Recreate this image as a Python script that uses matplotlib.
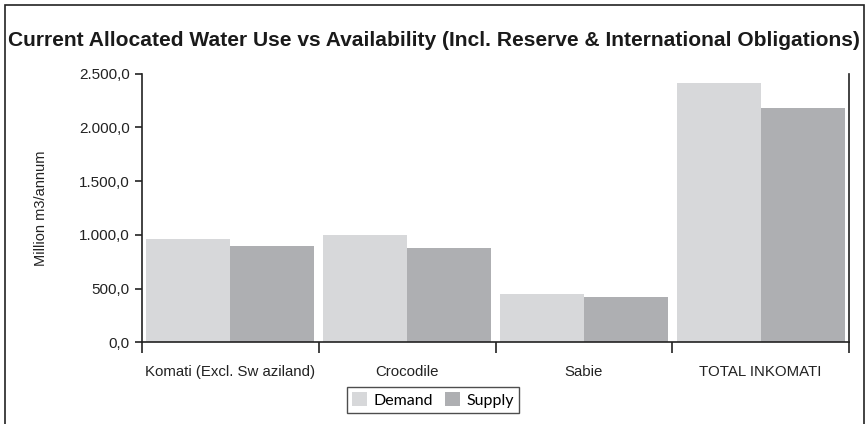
import numpy as np
import matplotlib.pyplot as plt
from matplotlib.patches import Rectangle
from matplotlib.ticker import FuncFormatter

# Data
categories = ['Komati (Excl. Sw aziland)', 'Crocodile', 'Sabie', 'TOTAL INKOMATI']
demand = [961, 998, 449, 2412]
supply = [896, 877, 421, 2180]

demand_color = '#D7D8DA'
supply_color = '#AEAFB2'

plt.rcParams['font.family'] = ['Liberation Sans', 'DejaVu Sans']

fig = plt.figure(figsize=(8.67, 4.24), dpi=100)
ax = fig.add_axes([142 / 867, 81.7 / 424, 707 / 867, 268.6 / 424])

x = np.arange(len(categories)) + 0.5
w = 0.475
ax.bar(x - w / 2, demand, width=w, color=demand_color, label='Demand', zorder=2)
ax.bar(x + w / 2, supply, width=w, color=supply_color, label='Supply', zorder=2)

ax.set_xlim(0, len(categories))
ax.set_ylim(0, 2500)
ax.set_yticks(np.arange(0, 2501, 500))


def euro(v, pos):
    s = f'{v:,.1f}'
    return s.replace(',', 'X').replace('.', ',').replace('X', '.')


ax.yaxis.set_major_formatter(FuncFormatter(euro))

# Category boundaries as major ticks, labels at the centres
ax.set_xticks(np.arange(len(categories) + 1))
ax.set_xticklabels([])
ax.set_xticks(x, minor=True)
ax.set_xticklabels(categories, minor=True)
ax.tick_params(axis='x', which='major', direction='out', length=8, width=1.2, color='#222222')
ax.tick_params(axis='x', which='minor', length=0, pad=16, labelsize=10.8, labelcolor='#222222')
ax.tick_params(axis='y', direction='out', length=5, width=1.2, color='#222222',
               labelsize=11, labelcolor='#222222', pad=4)

for side in ['left', 'bottom', 'right']:
    ax.spines[side].set_linewidth(1.2)
    ax.spines[side].set_color('#222222')
ax.spines['top'].set_visible(False)

ax.set_ylabel('Million m3/annum', fontsize=10.5, color='#222222', labelpad=22)

fig.text(434 / 867, 1 - 40 / 424, 'Current Allocated Water Use vs Availability (Incl. Reserve & International Obligations)',
         ha='center', va='center', fontsize=15.1, fontweight='bold', color='#1a1a1a')

# Outer chart frame
fig.patches.append(Rectangle((5 / 867, -0.05), (864 - 5) / 867, 1.05 - 5 / 424,
                             transform=fig.transFigure, fill=False, edgecolor='#222222', linewidth=1.2))

leg = fig.legend(loc='center', bbox_to_anchor=(433 / 867, 1 - 400 / 424), ncol=2,
                 frameon=True, fancybox=False, handlelength=0.9, handleheight=0.9,
                 handletextpad=0.4, columnspacing=0.8, borderpad=0.35,
                 prop={'family': 'Lato', 'size': 11.5})
leg.get_frame().set_edgecolor('#222222')
leg.get_frame().set_linewidth(1.0)

fig.savefig('out.png', dpi=100)
